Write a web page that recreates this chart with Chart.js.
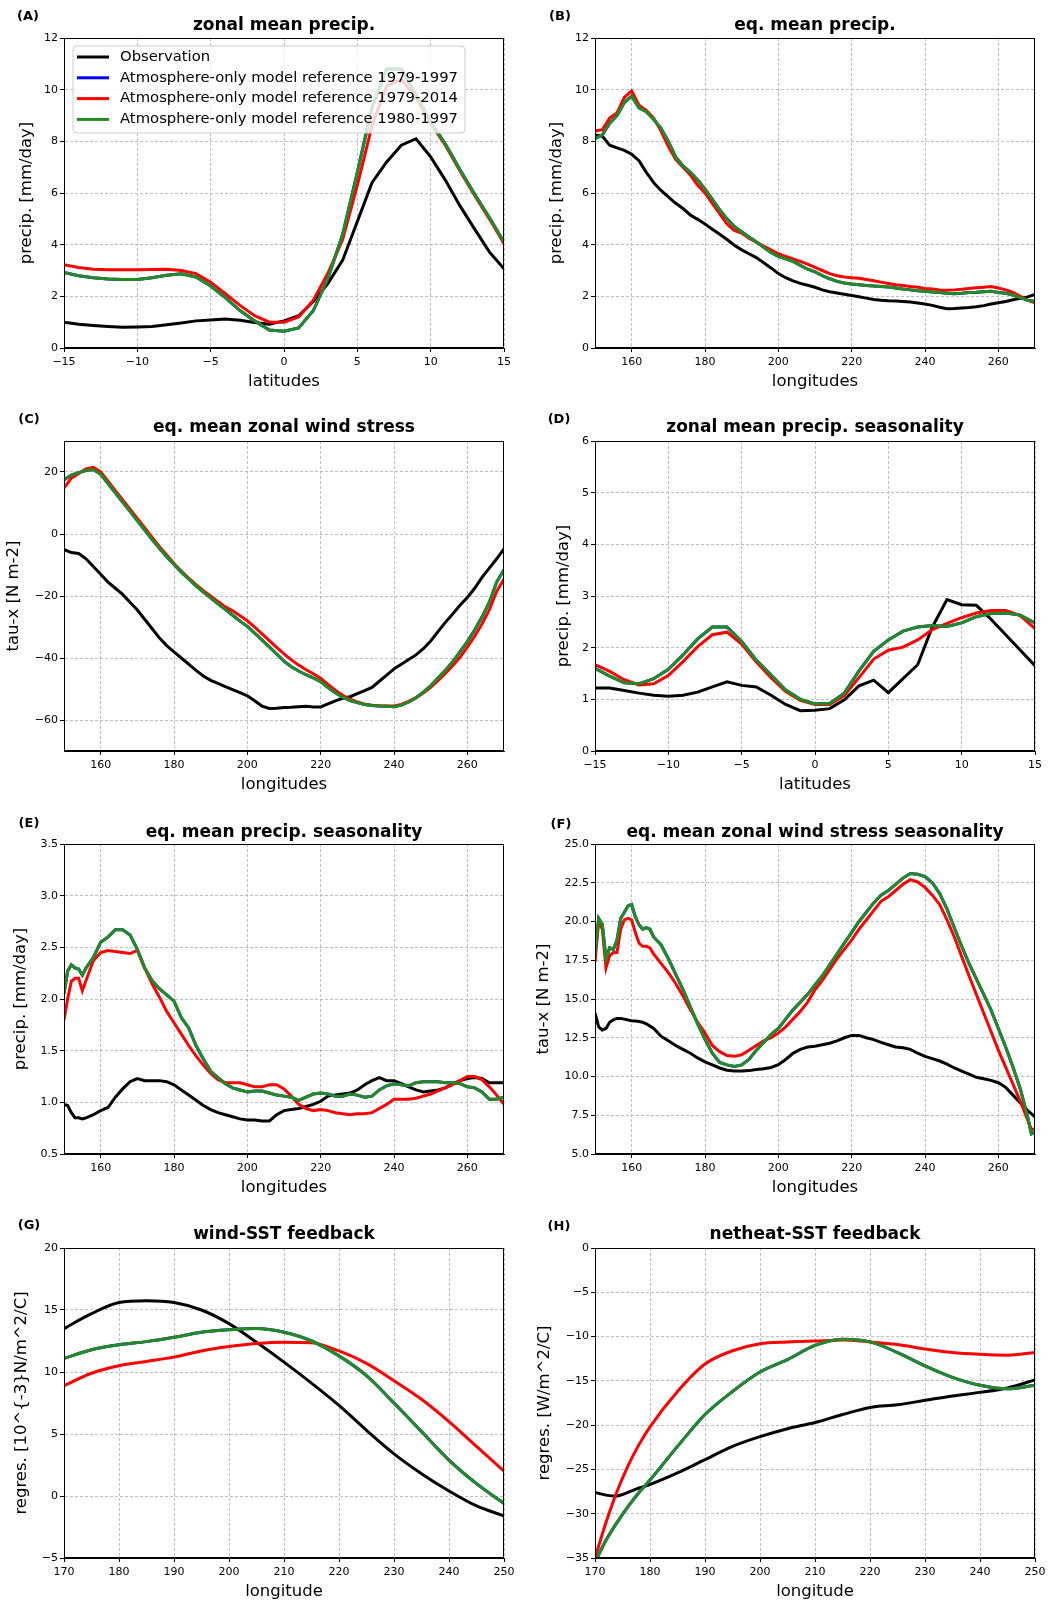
<!DOCTYPE html>
<html>
<head>
<meta charset="utf-8">
<script src="https://cdn.jsdelivr.net/npm/chart.js@4.4.1/dist/chart.umd.min.js"></script>
<style>
  body { margin: 0; background: #fff; width: 1052px; height: 1605px; position: relative; overflow: hidden; font-family: 'DejaVu Sans', sans-serif; }
  canvas { position: absolute; }
  .ttl { position: absolute; font-weight: bold; font-size: 17px; line-height: 1; white-space: nowrap; transform: translate(-50%, -50%); }
  .lbl { position: absolute; font-weight: bold; font-size: 13px; line-height: 1; white-space: nowrap; transform: translate(-50%, -50%); }
</style>
</head>
<body>
<script>
// ---- data ----
const latGrid = [-15,-14,-13,-12,-11,-10,-9,-8,-7,-6,-5,-4,-3,-2,-1,0,1,2,3,4,5,6,7,8,9,10,11,12,13,14,15];
const lonStep2 = [150,152,154,156,158,160,162,164,166,168,170,172,174,176,178,180,182,184,186,188,190,192,194,196,198,200,202,204,206,208,210,212,214,216,218,220,222,224,226,228,230,232,234,236,238,240,242,244,246,248,250,252,254,256,258,260,262,264,266,268,270];
const lonE = [150,151,152,153,154,155,156,158,160,162,164,166,168,170,172,174,176,178,180,182,184,186,188,190,192,194,196,198,200,202,204,206,208,210,212,214,216,218,220,222,224,226,228,230,232,234,236,238,240,242,244,246,248,250,252,254,256,258,260,262,264,266,268,270];
const lonF = [150,151,152,153,154,155,156,157,158,159,160,161,162,163,164,165,166,168,170,172,174,176,178,180,182,184,186,188,190,192,194,196,198,200,202,204,206,208,210,212,214,216,218,220,222,224,226,228,230,232,234,236,238,240,242,244,246,248,250,252,254,256,258,260,262,264,266,268,269,270];
const lonG = [170,175,180,185,190,195,200,205,210,215,220,225,230,235,240,245,250];
const lonH = [170,172,174,176,178,180,185,190,195,200,205,210,215,220,225,230,235,240,245,250];

// (A) zonal mean precip.
const obsA = [1.0,0.92,0.87,0.83,0.8,0.81,0.83,0.9,0.97,1.05,1.08,1.12,1.07,0.99,0.92,1.05,1.25,1.8,2.5,3.4,4.9,6.4,7.2,7.85,8.1,7.4,6.5,5.5,4.6,3.72,3.07];
const r7914A = [3.22,3.12,3.05,3.03,3.03,3.03,3.04,3.05,3.0,2.88,2.55,2.1,1.65,1.25,1.0,1.0,1.2,1.85,2.9,4.2,6.3,8.6,10.15,10.4,9.7,8.7,7.85,6.85,5.9,5.0,4.05];
const r8097A = [2.92,2.8,2.72,2.67,2.65,2.65,2.72,2.82,2.87,2.75,2.4,1.95,1.45,1.05,0.7,0.65,0.78,1.45,2.7,4.4,6.8,9.3,10.8,10.8,9.8,8.75,7.9,6.9,5.95,5.05,4.1];
const r7997A = r8097A; // hidden under the green line

// (B) eq. mean precip.
const obsB = [8.25,8.2,7.85,7.75,7.65,7.5,7.25,6.8,6.4,6.1,5.85,5.6,5.4,5.15,4.98,4.8,4.6,4.4,4.2,3.98,3.8,3.65,3.5,3.3,3.1,2.88,2.72,2.6,2.5,2.43,2.35,2.25,2.18,2.13,2.08,2.03,1.98,1.93,1.88,1.85,1.83,1.82,1.8,1.78,1.74,1.7,1.65,1.58,1.52,1.53,1.55,1.57,1.6,1.64,1.7,1.75,1.8,1.87,1.92,1.98,2.07];
const r7914B = [8.4,8.45,8.9,9.1,9.7,9.95,9.4,9.2,8.9,8.4,7.8,7.3,7.0,6.7,6.3,6.0,5.6,5.2,4.8,4.55,4.45,4.25,4.1,3.95,3.8,3.65,3.55,3.45,3.35,3.25,3.12,3.0,2.88,2.8,2.75,2.72,2.7,2.65,2.6,2.55,2.5,2.45,2.42,2.38,2.35,2.3,2.28,2.25,2.24,2.25,2.27,2.3,2.33,2.35,2.38,2.32,2.25,2.15,2.0,1.85,1.75];
const r8097B = [8.1,8.25,8.7,9.0,9.5,9.75,9.3,9.15,8.85,8.5,8.0,7.4,7.05,6.8,6.5,6.15,5.75,5.35,5.0,4.7,4.5,4.3,4.1,3.9,3.7,3.55,3.45,3.35,3.2,3.05,2.95,2.8,2.68,2.58,2.52,2.48,2.45,2.42,2.4,2.38,2.36,2.32,2.28,2.25,2.22,2.2,2.17,2.15,2.12,2.1,2.12,2.15,2.16,2.18,2.2,2.15,2.12,2.05,1.95,1.85,1.8];
const r7997B = r8097B;

// (C) eq. mean zonal wind stress
const obsC = [-5,-6,-6.3,-8,-10.5,-13,-15.5,-17.5,-19.5,-22,-24.5,-27.5,-30.5,-33.5,-36,-38,-40,-42,-44,-45.8,-47.2,-48.2,-49.2,-50.2,-51.2,-52.2,-53.8,-55.5,-56.3,-56.2,-56,-55.9,-55.7,-55.6,-55.8,-55.8,-54.8,-53.8,-53,-52.5,-51.5,-50.5,-49.5,-47.5,-45.5,-43.5,-42,-40.5,-39,-37,-34.5,-31.5,-28.5,-25.8,-23,-20.5,-17.5,-14,-11,-8,-4.8];
const r7914C = [14.8,18,19.5,21,21.5,20,17,14,11,8,5,2,-1,-4,-6.8,-9.5,-12,-14.2,-16.3,-18.3,-20,-21.8,-23.5,-24.8,-26.4,-28,-30,-32.2,-34.4,-36.6,-38.7,-40.6,-42.3,-43.8,-45.1,-46.5,-48.5,-50.4,-52,-53.3,-54.2,-54.9,-55.2,-55.4,-55.5,-55.5,-55,-54,-52.8,-51.3,-49.5,-47.3,-45,-42.5,-39.8,-36.5,-33,-29,-24.5,-18.5,-14.5];
const r8097C = [17.5,19,19.8,20.5,20.8,19.3,16.3,13.3,10.3,7.3,4.3,1.3,-1.7,-4.6,-7.3,-9.8,-12.3,-14.5,-16.7,-18.7,-20.6,-22.5,-24.3,-26.2,-28.1,-29.8,-32,-34.2,-36.4,-38.7,-41,-42.8,-44.2,-45.4,-46.4,-47.6,-49.5,-51.2,-52.6,-53.7,-54.4,-55,-55.3,-55.5,-55.6,-55.7,-55.2,-54.2,-52.8,-51,-49,-46.5,-44,-41.2,-38,-34.7,-31,-26.8,-22,-15.5,-11.5];
const r7997C = r8097C;

// (D) zonal mean precip. seasonality
const obsD = [1.22,1.22,1.17,1.12,1.08,1.06,1.08,1.14,1.24,1.34,1.27,1.24,1.08,0.9,0.78,0.79,0.82,0.99,1.26,1.37,1.13,1.4,1.67,2.4,2.93,2.83,2.82,2.55,2.25,1.95,1.65];
const r7914D = [1.67,1.54,1.38,1.28,1.3,1.46,1.73,2.02,2.25,2.3,2.07,1.72,1.42,1.15,0.98,0.9,0.9,1.07,1.42,1.78,1.95,2.01,2.15,2.35,2.47,2.58,2.67,2.72,2.72,2.62,2.37];
const r8097D = [1.6,1.45,1.32,1.3,1.4,1.58,1.86,2.17,2.4,2.4,2.12,1.76,1.47,1.18,1.0,0.91,0.92,1.12,1.55,1.93,2.15,2.32,2.4,2.43,2.41,2.48,2.6,2.66,2.67,2.63,2.48];
const r7997D = r8097D;

// (E) eq. mean precip. seasonality
const obsE = [0.98,0.97,0.9,0.85,0.85,0.84,0.85,0.88,0.92,0.95,1.05,1.13,1.2,1.23,1.21,1.21,1.21,1.2,1.17,1.12,1.07,1.02,0.97,0.93,0.9,0.88,0.86,0.84,0.83,0.83,0.82,0.82,0.88,0.92,0.93,0.94,0.96,0.98,1.01,1.06,1.07,1.08,1.09,1.12,1.17,1.21,1.24,1.21,1.21,1.18,1.15,1.12,1.1,1.11,1.12,1.14,1.18,1.21,1.23,1.24,1.23,1.19,1.19,1.19];
const r7914E = [1.8,2.0,2.17,2.2,2.2,2.08,2.18,2.37,2.45,2.47,2.46,2.45,2.44,2.47,2.3,2.15,2.02,1.88,1.77,1.66,1.55,1.45,1.36,1.28,1.22,1.19,1.19,1.19,1.17,1.15,1.15,1.17,1.17,1.13,1.06,0.98,0.94,0.92,0.93,0.92,0.9,0.89,0.88,0.89,0.89,0.9,0.94,0.98,1.03,1.03,1.03,1.04,1.06,1.08,1.11,1.14,1.17,1.21,1.25,1.25,1.22,1.15,1.07,0.98];
const r8097E = [2.05,2.27,2.33,2.3,2.29,2.23,2.3,2.4,2.55,2.6,2.67,2.67,2.62,2.48,2.3,2.18,2.1,2.04,1.98,1.82,1.72,1.55,1.42,1.3,1.24,1.18,1.14,1.12,1.1,1.11,1.11,1.09,1.07,1.06,1.05,1.02,1.05,1.08,1.09,1.08,1.06,1.06,1.08,1.07,1.05,1.06,1.12,1.16,1.18,1.17,1.16,1.19,1.2,1.2,1.2,1.19,1.19,1.18,1.15,1.14,1.1,1.03,1.03,1.05];
const r7997E = r8097E;

// (F) eq. mean zonal wind stress seasonality
const obsF = [14.1,13.2,13.0,13.1,13.5,13.65,13.75,13.75,13.7,13.65,13.6,13.58,13.55,13.5,13.4,13.25,13.1,12.6,12.3,12.0,11.75,11.5,11.2,10.95,10.75,10.55,10.4,10.35,10.35,10.38,10.45,10.5,10.58,10.76,11.1,11.5,11.75,11.9,11.95,12.05,12.15,12.3,12.5,12.65,12.65,12.5,12.38,12.2,12.05,11.9,11.85,11.75,11.5,11.3,11.15,11.0,10.8,10.55,10.35,10.15,9.95,9.85,9.75,9.6,9.3,8.8,8.3,7.8,7.6,7.4];
const r7914F = [17.4,20.0,19.5,17.0,17.8,18.0,18.0,19.5,20.1,20.2,20.1,19.3,18.6,18.4,18.4,18.3,17.9,17.3,16.7,16.0,15.2,14.3,13.5,12.8,12.0,11.6,11.35,11.3,11.4,11.7,12.0,12.3,12.5,12.8,13.2,13.7,14.2,14.8,15.6,16.2,16.9,17.6,18.2,18.8,19.5,20.1,20.7,21.3,21.6,22.0,22.4,22.7,22.55,22.2,21.7,21.1,20.1,19.0,17.75,16.5,15.3,14.1,12.9,11.7,10.6,9.5,8.4,7.2,6.6,6.6];
const r8097F = [17.8,20.2,19.8,17.6,18.3,18.2,18.8,20.2,20.6,21.0,21.1,20.3,19.8,19.5,19.6,19.5,19.0,18.5,17.6,16.6,15.6,14.5,13.4,12.4,11.5,10.9,10.75,10.65,10.75,11.1,11.7,12.2,12.7,13.1,13.7,14.3,14.8,15.3,15.9,16.5,17.2,17.9,18.6,19.3,20.0,20.6,21.2,21.7,22.0,22.4,22.8,23.1,23.05,22.9,22.5,21.8,20.8,19.6,18.4,17.3,16.3,15.3,14.3,13.1,11.9,10.6,9.2,7.4,6.3,6.4];
const r7997F = r8097F;

// (G) wind-SST feedback
const obsG = [13.5,14.7,15.6,15.75,15.6,15.0,13.9,12.4,10.8,9.1,7.3,5.3,3.4,1.8,0.4,-0.8,-1.6];
const r7914G = [8.9,9.9,10.5,10.85,11.2,11.7,12.05,12.3,12.4,12.35,11.7,10.7,9.3,7.8,6.0,4.0,2.0];
const r8097G = [11.1,11.8,12.2,12.45,12.8,13.2,13.4,13.5,13.2,12.5,11.3,9.7,7.5,5.2,2.9,1.0,-0.6];
const r7997G = r8097G;

// (H) netheat-SST feedback
const obsH = [-27.6,-27.9,-28.0,-27.6,-27.1,-26.7,-25.4,-23.9,-22.4,-21.3,-20.4,-19.7,-18.8,-18.0,-17.7,-17.2,-16.7,-16.3,-15.8,-14.9];
const r7914H = [-35,-31,-27.5,-24.6,-22.2,-20.2,-16.2,-13.1,-11.6,-10.8,-10.6,-10.5,-10.4,-10.6,-10.9,-11.4,-11.8,-12.0,-12.1,-11.8];
const r8097H = [-35.5,-33.0,-31.0,-29.2,-27.6,-26.2,-22.4,-18.8,-16.2,-14.0,-12.6,-11.0,-10.3,-10.6,-11.8,-13.3,-14.6,-15.5,-15.9,-15.5];
const r7997H = r8097H;

// tick labels
const latTicks = [-15,-10,-5,0,5,10,15];
const lonTicks = [160,180,200,220,240,260];
const lonFbTicks = [170,180,190,200,210,220,230,240,250];
const ticksYA = [0,2,4,6,8,10,12];
const ticksYC = [-60,-40,-20,0,20];
const ticksYD = [0,1,2,3,4,5,6];
const ticksYE = [0.5,1.0,1.5,2.0,2.5,3.0,3.5];
const ticksYF = [5,7.5,10,12.5,15,17.5,20,22.5,25];
const ticksYG = [-5,0,5,10,15,20];
const ticksYH = [-35,-30,-25,-20,-15,-10,-5,0];

const seriesLabels = ['Observation', 'Atmosphere-only model reference 1979-1997', 'Atmosphere-only model reference 1979-2014', 'Atmosphere-only model reference 1980-1997'];
const seriesColors = ['#000000', '#0000ff', '#ff0000', '#228b22'];

// ---- drawing ----
const FONT = "'DejaVu Sans', sans-serif";
const PW = 440, PH = 310, XH = 44;

function fmtInt(v) { return String(Math.round(v)).replace('-', '\u2212'); }
function fmt1(v) { return v.toFixed(1).replace('-', '\u2212'); }

const framePlugin = {
  id: 'frame',
  afterDraw(chart) {
    const a = chart.chartArea, ctx = chart.ctx;
    ctx.save();
    ctx.strokeStyle = '#000';
    ctx.lineWidth = 1;
    ctx.strokeRect(Math.round(a.left) + 0.5, Math.round(a.top) + 0.5, Math.round(a.right - a.left) - 1, Math.round(a.bottom - a.top) - 1);
    ctx.restore();
  }
};

// matplotlib-style legend box inside the axes (panel A only)
const boxLegend = {
  id: 'boxLegend',
  afterDatasetsDraw(chart, args, opts) {
    if (!opts.show) return;
    const a = chart.chartArea, ctx = chart.ctx;
    const x = a.left + 9, y = a.top + 8, w = 392, h = 87;
    ctx.save();
    ctx.beginPath();
    ctx.roundRect(x, y, w, h, 4);
    ctx.fillStyle = 'rgba(255,255,255,0.8)';
    ctx.fill();
    ctx.strokeStyle = '#cccccc';
    ctx.lineWidth = 1;
    ctx.stroke();
    ctx.font = '14.8px ' + FONT;
    ctx.textBaseline = 'middle';
    chart.data.datasets.forEach(function(ds, i) {
      const cy = y + 11 + i * 20.8;
      ctx.strokeStyle = ds.borderColor;
      ctx.lineWidth = 3;
      ctx.beginPath();
      ctx.moveTo(x + 4, cy);
      ctx.lineTo(x + 36, cy);
      ctx.stroke();
      ctx.fillStyle = '#000';
      ctx.fillText(ds.label, x + 47, cy);
    });
    ctx.restore();
  }
};

function axis(dir, min, max, ticks, fmt, title, size) {
  return {
    type: 'linear',
    position: dir === 'x' ? 'bottom' : 'left',
    min: min, max: max,
    afterBuildTicks: function(s) { s.ticks = ticks.map(function(v) { return {value: v}; }); },
    afterFit: function(s) { if (dir === 'x') s.height = size; else s.width = size; },
    ticks: { callback: function(v) { return fmt(v); }, color: '#000', font: {family: FONT, size: 11}, padding: dir === 'x' ? 4 : 2, maxRotation: 0, autoSkip: false },
    grid: { color: '#b0b0b0', lineWidth: 0.8, tickColor: '#000', tickLength: 4, tickWidth: 1 },
    border: { display: true, color: '#000', width: 1, dash: [3, 2] },
    title: { display: true, text: title, color: '#000', font: {family: FONT, size: 16.5}, padding: 0 }
  };
}

function addText(cls, text, cx, cy) {
  const d = document.createElement('div');
  d.className = cls;
  d.textContent = text;
  d.style.left = cx + 'px';
  d.style.top = cy + 'px';
  document.body.appendChild(d);
}

function makePanel(p) {
  const cv = document.createElement('canvas');
  cv.width = p.yw + PW + 18;
  cv.height = 10 + PH + XH;
  cv.style.left = (p.plotL - p.yw) + 'px';
  cv.style.top = (p.plotT - 10) + 'px';
  document.body.appendChild(cv);

  const datasets = p.series.map(function(ys, i) {
    return {
      label: seriesLabels[i],
      data: p.x.map(function(xv, j) { return {x: xv, y: ys[j]}; }),
      borderColor: seriesColors[i],
      backgroundColor: seriesColors[i],
      borderWidth: 3,
      pointRadius: 0,
      fill: false,
      order: 3 - i, // later series on top, like matplotlib
      tension: 0,
      cubicInterpolationMode: p.smooth ? 'monotone' : 'default'
    };
  });

  new Chart(cv, {
    type: 'line',
    data: { datasets: datasets },
    options: {
      responsive: false,
      animation: false,
      devicePixelRatio: 1,
      layout: { padding: {left: 0, top: 10, right: 18, bottom: 0} },
      plugins: { legend: {display: false}, tooltip: {enabled: false}, boxLegend: {show: !!p.legend} },
      scales: {
        x: axis('x', p.xr[0], p.xr[1], p.xt, p.xf, p.xTitle, XH),
        y: axis('y', p.yr[0], p.yr[1], p.yt, p.yf, p.yTitle, p.yw)
      }
    },
    plugins: [boxLegend, framePlugin]
  });

  addText('ttl', p.title, p.plotL + PW / 2, p.titleY);
  addText('lbl', p.letter, p.letterX, p.letterY);
}

const panels = [
  { letter: '(A)', title: 'zonal mean precip.', x: latGrid, series: [obsA, r7997A, r7914A, r8097A],
    xr: [-15, 15], xt: latTicks, xf: fmtInt, yr: [0, 12], yt: ticksYA, yf: fmtInt,
    xTitle: 'latitudes', yTitle: 'precip. [mm/day]', plotL: 64, plotT: 38, yw: 47, titleY: 24, letterX: 28, letterY: 15, legend: true },
  { letter: '(B)', title: 'eq. mean precip.', x: lonStep2, series: [obsB, r7997B, r7914B, r8097B],
    xr: [150, 270], xt: lonTicks, xf: fmtInt, yr: [0, 12], yt: ticksYA, yf: fmtInt,
    xTitle: 'longitudes', yTitle: 'precip. [mm/day]', plotL: 595, plotT: 38, yw: 48, titleY: 24, letterX: 560, letterY: 15 },
  { letter: '(C)', title: 'eq. mean zonal wind stress', x: lonStep2, series: [obsC, r7997C, r7914C, r8097C],
    xr: [150, 270], xt: lonTicks, xf: fmtInt, yr: [-70, 30], yt: ticksYC, yf: fmtInt,
    xTitle: 'longitudes', yTitle: 'tau-x [N m-2]', plotL: 64, plotT: 441, yw: 60, titleY: 426, letterX: 29, letterY: 418 },
  { letter: '(D)', title: 'zonal mean precip. seasonality', x: latGrid, series: [obsD, r7997D, r7914D, r8097D],
    xr: [-15, 15], xt: latTicks, xf: fmtInt, yr: [0, 6], yt: ticksYD, yf: fmtInt,
    xTitle: 'latitudes', yTitle: 'precip. [mm/day]', plotL: 595, plotT: 441, yw: 41, titleY: 426, letterX: 559, letterY: 418 },
  { letter: '(E)', title: 'eq. mean precip. seasonality', x: lonE, series: [obsE, r7997E, r7914E, r8097E],
    xr: [150, 270], xt: lonTicks, xf: fmtInt, yr: [0.5, 3.5], yt: ticksYE, yf: fmt1,
    xTitle: 'longitudes', yTitle: 'precip. [mm/day]', plotL: 64, plotT: 844, yw: 53, titleY: 831, letterX: 29, letterY: 822 },
  { letter: '(F)', title: 'eq. mean zonal wind stress seasonality', x: lonF, series: [obsF, r7997F, r7914F, r8097F],
    xr: [150, 270], xt: lonTicks, xf: fmtInt, yr: [5, 25], yt: ticksYF, yf: fmt1,
    xTitle: 'longitudes', yTitle: 'tau-x [N m-2]', plotL: 595, plotT: 844, yw: 61, titleY: 831, letterX: 561, letterY: 823 },
  { letter: '(G)', title: 'wind-SST feedback', x: lonG, series: [obsG, r7997G, r7914G, r8097G],
    xr: [170, 250], xt: lonFbTicks, xf: fmtInt, yr: [-5, 20], yt: ticksYG, yf: fmtInt, smooth: true,
    xTitle: 'longitude', yTitle: 'regres. [10^{-3}N/m^2/C]', plotL: 64, plotT: 1248, yw: 52, titleY: 1233, letterX: 29, letterY: 1224 },
  { letter: '(H)', title: 'netheat-SST feedback', x: lonH, series: [obsH, r7997H, r7914H, r8097H],
    xr: [170, 250], xt: lonFbTicks, xf: fmtInt, yr: [-35, 0], yt: ticksYH, yf: fmtInt, smooth: true,
    xTitle: 'longitude', yTitle: 'regres. [W/m^2/C]', plotL: 595, plotT: 1248, yw: 60, titleY: 1233, letterX: 559, letterY: 1225 }
];

panels.forEach(makePanel);
</script>
</body>
</html>
